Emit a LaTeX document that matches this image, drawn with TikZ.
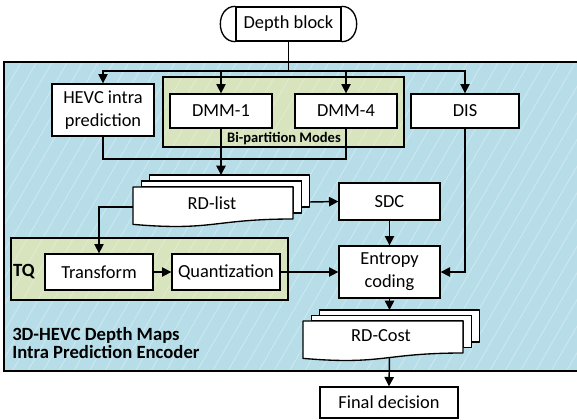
\documentclass[tikz,border=0pt]{standalone}
\usepackage{fontspec}
\setmainfont{Carlito}
\usetikzlibrary{arrows.meta,patterns.meta}
\definecolor{bluebg}{HTML}{B7DEE8}
\definecolor{bluehatch}{HTML}{CBE7EF}
\definecolor{greenbg}{HTML}{D7E4BD}
\definecolor{greenhatch}{HTML}{E2EBCF}
% multi-document shape: #1 front left, #2 back top, #3 front width, #4 front height, #5 dx, #6 dy
\newcommand\mdocshape[6]{%
  \draw[docpage] ({#1+2*#5},{#2+#6}) -- ({#1+2*#5},{#2}) -- ({#1+#3+2*#5},{#2})
     -- ({#1+#3+2*#5},{#2+0.8*#4}) -- ({#1+#3+#5},{#2+0.8*#4}) -- ({#1+#3+#5},{#2+#6}) -- cycle;
  \draw[docpage] ({#1+#5},{#2+2*#6}) -- ({#1+#5},{#2+#6}) -- ({#1+#3+#5},{#2+#6})
     -- ({#1+#3+#5},{#2+#6+0.8*#4}) -- ({#1+#3},{#2+#6+0.8*#4}) -- ({#1+#3},{#2+2*#6}) -- cycle;
  \draw[docpage] ({#1},{#2+2*#6}) -- ({#1+#3},{#2+2*#6}) -- ({#1+#3},{#2+2*#6+0.8*#4})
     .. controls ({#1+0.5*#3},{#2+2*#6+0.8*#4}) and ({#1+0.5*#3},{#2+2*#6+1.107*#4}) ..
     ({#1},{#2+2*#6+0.934*#4}) -- cycle;}
\begin{document}
\begin{tikzpicture}[x=0.75pt,y=-0.75pt,
  box/.style={draw,fill=white,line width=1pt,inner sep=0pt,align=center,
    font=\fontsize{13.8}{17.5}\selectfont},
  sz/.style 2 args={minimum width=#1*0.75pt,minimum height=#2*0.75pt},
  conn/.style={line width=1.1pt},
  arr/.style={conn,-{Triangle[length=7pt,width=7pt]}},
  txt/.style={inner sep=0pt,font=\fontsize{13.8}{17}\selectfont},
  lbl/.style={inner sep=0pt,font=\bfseries\fontsize{10.9}{13}\selectfont},
  biglbl/.style={inner sep=0pt,align=left,font=\bfseries\fontsize{14}{13.2}\selectfont},
  docpage/.style={draw,fill=white,line width=1pt,line join=round},
  hatchblue/.style={pattern={Lines[angle=60,distance=10pt,line width=0.7pt]},pattern color=bluehatch},
  hatchgreen/.style={pattern={Lines[angle=60,distance=10pt,line width=0.7pt]},pattern color=greenhatch},
]
\useasboundingbox (0,0) rectangle (577,419);

% encoder background
\fill[bluebg] (4,62) rectangle (590,371);
\path[hatchblue] (4,62) rectangle (590,371);
\draw[line width=1.3pt] (4,62) rectangle (590,371);

% green groups
\fill[greenbg] (163,77) rectangle (404,147);
\path[hatchgreen] (163,77) rectangle (404,147);
\draw[line width=1pt] (163,77) rectangle (404,147);
\fill[greenbg] (11,238) rectangle (288,300);
\path[hatchgreen] (11,238) rectangle (288,300);
\draw[line width=1pt] (11,238) rectangle (288,300);

% depth block (terminal)
\node[box,sz={105}{34}] (depth) at (288.5,24) {Depth block};
\draw[line width=1pt] (depth.north west) .. controls +(-20,0) and +(-20,0) .. (depth.south west);
\draw[line width=1pt] (depth.north east) .. controls +(20,0) and +(20,0) .. (depth.south east);

% boxes
\node[box,sz={102}{52}] (hevc) at (103,110) {HEVC intra\\prediction};
\node[box,sz={102}{34}] (dmm1) at (221,111) {DMM-1};
\node[box,sz={102}{34}] (dmm4) at (346,111) {DMM-4};
\node[box,sz={108}{34}] (dis) at (465,111) {DIS};
\node[lbl] (bilbl) at (284,139) {Bi-partition Modes};
\node[box,sz={101}{37}] (sdc) at (389.5,201.5) {SDC};
\node[box,sz={101}{52}] (entropy) at (389.5,272) {Entropy\\coding};
\node[lbl,font=\bfseries\fontsize{14}{16}\selectfont] (tq) at (24,272) {TQ};
\node[box,sz={108}{36}] (transform) at (99,272) {Transform};
\node[box,sz={108}{36}] (quant) at (226,272) {Quantization};
\node[box,sz={138}{31}] (final) at (389,402.5) {Final decision};
\node[biglbl,anchor=west] (enc) at (12,343) {3D-HEVC Depth Maps\\Intra Prediction Encoder};

% document stacks
\mdocshape{133}{175}{160}{40}{8.3}{6}
\node[txt] (rdlist) at (212,203) {RD-list};
\mdocshape{303}{310}{160}{40}{8.3}{5.5}
\node[txt] (rdcost) at (381,336) {RD-Cost};
\coordinate (rdtop) at (221,175);
\coordinate (rdleft) at (133,207);
\coordinate (rdright) at (309.6,202);
\coordinate (rctop) at (389.5,310);
\coordinate (rcbot) at (389.5,357.5);

% connectors
\coordinate (split) at (288.5,71);
\draw[conn] (depth.south) -- (split);
\draw[arr] (split) -| (hevc.north);
\draw[arr] (split) -| (dmm1.north);
\draw[arr] (split) -| (dmm4.north);
\draw[arr] (split) -| (dis.north);
\coordinate (j1) at (103,159);
\coordinate (j2) at (346,159);
\draw[conn] (hevc.south) -- (j1) -- (j2) -- (dmm4.south);
\draw[arr] (dmm1.south) -- (rdtop);
\draw[arr] (rdright) -- (sdc.west);
\draw[arr] (rdleft) -| (transform.north);
\draw[arr] (transform.east) -- (quant.west);
\draw[arr] (quant.east) -- (entropy.west);
\draw[arr] (sdc.south) -- (entropy.north);
\draw[arr] (dis.south) |- (entropy.east);
\draw[arr] (entropy.south) -- (rctop);
\draw[arr] (rcbot) -- (final.north);
\end{tikzpicture}
\end{document}
